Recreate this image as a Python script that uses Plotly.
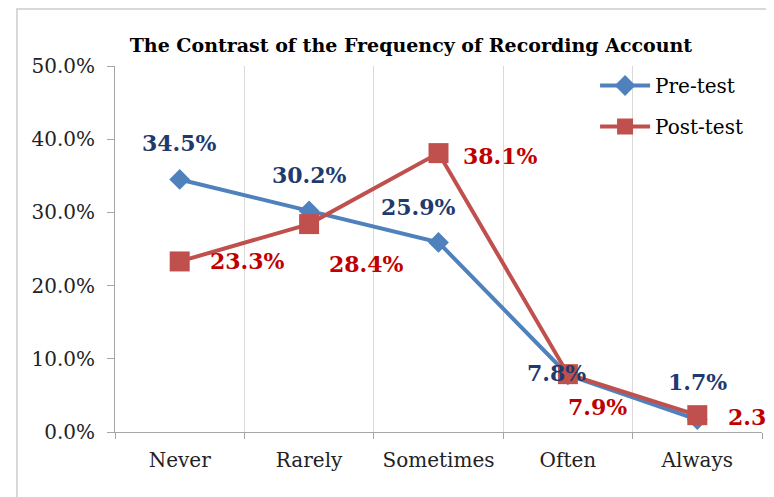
import plotly.graph_objects as go

categories = ["Never", "Rarely", "Sometimes", "Often", "Always"]
pre_test = [34.5, 30.2, 25.9, 7.8, 1.7]
post_test = [23.3, 28.4, 38.1, 7.9, 2.3]
y_ticks = [0, 10, 20, 30, 40, 50]

FONT = "DejaVu Serif"
PRE_LINE = "#4F81BD"
POST_LINE = "#C0504D"
PRE_TEXT = "#1F3A6E"
POST_TEXT = "#C00000"

# label placement per point: (xshift, yshift, xanchor)
pre_offsets = [(0, 36, "center"), (0, 36, "center"), (-20, 35, "center"),
               (-11, 2, "center"), (0, 38, "center")]
post_offsets = [(68, 0, "center"), (57, -40, "center"), (62, -3, "center"),
                (30, -33, "center"), (29, -2, "left")]

fig = go.Figure()
fig.add_trace(go.Scatter(
    x=categories, y=pre_test, name="Pre-test", mode="lines+markers",
    legendgroup="pre",
    line={"color": PRE_LINE, "width": 4},
    marker={"symbol": "diamond", "size": 16, "color": PRE_LINE},
))
fig.add_trace(go.Scatter(
    x=categories, y=post_test, name="Post-test", mode="lines+markers",
    legendgroup="post",
    line={"color": POST_LINE, "width": 4},
    marker={"symbol": "square", "size": 20, "color": POST_LINE},
))

for cat, v, (dx, dy, anchor) in zip(categories, pre_test, pre_offsets):
    fig.add_annotation(x=cat, y=v, text=f"<b>{v:.1f}%</b>", showarrow=False,
                       xshift=dx, yshift=dy, xanchor=anchor,
                       font={"family": FONT, "size": 22, "color": PRE_TEXT})
for cat, v, (dx, dy, anchor) in zip(categories, post_test, post_offsets):
    fig.add_annotation(x=cat, y=v, text=f"<b>{v:.1f}%</b>", showarrow=False,
                       xshift=dx, yshift=dy, xanchor=anchor,
                       font={"family": FONT, "size": 22, "color": POST_TEXT})

# outer chart frame
fig.add_shape(type="rect", xref="paper", yref="paper",
              x0=-0.1515, x1=1.5, y0=-0.5, y1=1.1557,
              line={"color": "#D9D9D9", "width": 2}, layer="below")

fig.update_layout(
    width=766, height=497,
    margin={"l": 107, "r": 12, "t": 58, "b": 73},
    paper_bgcolor="white", plot_bgcolor="white",
    font={"family": FONT, "size": 20, "color": "#222222"},
    title={"text": "<b>The Contrast of the Frequency of Recording Account</b>",
           "x": 0.526, "xanchor": "center", "y": 0.925, "yanchor": "middle",
           "font": {"family": FONT, "size": 19, "color": "black"}},
    legend={"x": 0.742, "y": 1.0, "xanchor": "left", "yanchor": "top",
            "bgcolor": "rgba(0,0,0,0)", "font": {"family": FONT, "size": 20, "color": "black"},
            "itemwidth": 50, "tracegroupgap": 12},
    showlegend=True,
)
fig.update_xaxes(
    type="category", range=[-0.5, 4.5], tickson="boundaries",
    showgrid=True, gridcolor="#D9D9D9", gridwidth=1,
    showline=True, linecolor="#A6A6A6", linewidth=1,
    ticks="outside", ticklen=6, tickcolor="#A6A6A6", ticklabelstandoff=10,
    tickfont={"family": FONT, "size": 20, "color": "#222222"},
)
fig.update_yaxes(
    range=[0, 50], tickvals=y_ticks, ticktext=[f"{t:.1f}%" for t in y_ticks],
    showgrid=False, zeroline=False,
    showline=True, linecolor="#A6A6A6", linewidth=1,
    ticks="outside", ticklen=7, tickcolor="#A6A6A6", ticklabelstandoff=8,
    tickfont={"family": FONT, "size": 20, "color": "#222222"},
)

fig.write_html("out.html")
